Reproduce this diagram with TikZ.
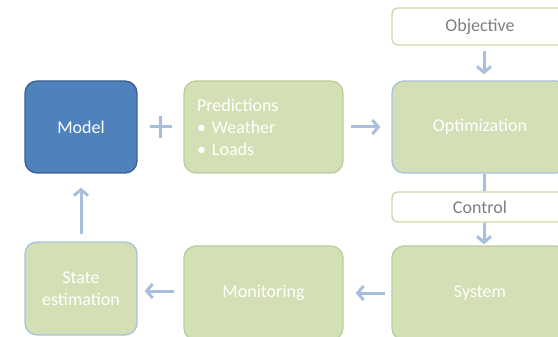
\documentclass[tikz,border=0pt]{standalone}
\usepackage{fontspec}
\setmainfont{Carlito}
\usetikzlibrary{arrows.meta,calc}
\definecolor{modelfill}{HTML}{4F81BD}
\definecolor{modeledge}{HTML}{3B6190}
\definecolor{leaf}{HTML}{D3E0B5}
\definecolor{leafedge}{HTML}{BCCC9C}
\definecolor{skyedge}{HTML}{A9C1DE}
\definecolor{tagedge}{HTML}{CBDAA6}
\definecolor{flow}{HTML}{A7BFDD}
\definecolor{tagtext}{HTML}{7F7F7F}
\tikzset{
  box/.style={rectangle, rounded corners=12pt, line width=1.3pt, fill=leaf,
    draw=leafedge, text=white, font=\fontsize{18}{22}\selectfont,
    inner sep=0pt, align=center},
  tag/.style={rectangle, rounded corners=6pt, line width=1.3pt, fill=white,
    draw=tagedge, text=tagtext, font=\fontsize{18}{22}\selectfont,
    inner sep=0pt, minimum width=176pt},
  arr/.style={draw=flow, line width=3pt,
    -{Straight Barb[length=6pt,width=14pt]}},
  link/.style={draw=flow, line width=3pt}
}
\begin{document}
\begin{tikzpicture}[x=1pt,y=1pt]
\useasboundingbox (0,0) rectangle (558,-337);
\clip (0,0) rectangle (558,-337);
% upper row
\node[box, fill=modelfill, draw=modeledge, minimum width=112pt, minimum height=92pt]
  (model) at (81,-127) {Model};
\node[box, minimum width=159pt, minimum height=92pt, text width=133pt, align=left]
  (pred) at (263.5,-127) {Predictions\\\textbullet\ Weather\\\textbullet\ Loads};
\node[box, draw=skyedge, minimum width=176pt, minimum height=92pt]
  (opt) at (480,-127) {Optimization};
\node[tag, minimum height=37pt] (obj) at (480,-26.5) {Objective};
% middle tag
\node[tag, minimum height=30pt] (ctrl) at (480,-207) {Control};
% lower row
\node[box, minimum width=176pt, minimum height=94pt] (sys) at (480,-293) {System};
\node[box, minimum width=159pt, minimum height=94pt] (mon) at (263.5,-293) {Monitoring};
\node[box, draw=skyedge, minimum width=112pt, minimum height=93pt]
  (est) at (81,-288.5) {State\\estimation};
% plus sign between model and predictions
\coordinate (plus) at ($(model.east)!0.5!(pred.west)$);
\draw[link] ([xshift=-11pt]plus) -- ([xshift=11pt]plus);
\draw[link] ([yshift=-11pt]plus) -- ([yshift=11pt]plus);
% flow connectors
\draw[arr, shorten <=7pt, shorten >=11pt] (pred.east) -- (opt.west);
\draw[arr, shorten <=5pt, shorten >=6pt] ([xshift=4pt]obj.south) -- ([xshift=4pt]opt.north);
\draw[link] ([xshift=4pt]opt.south) -- ([xshift=4pt]ctrl.north);
\draw[arr, shorten >=1pt] ([xshift=4pt]ctrl.south) -- ([xshift=4pt]sys.north);
\draw[arr, shorten <=6pt, shorten >=12pt] (sys.west) -- (mon.east);
\draw[arr, shorten <=9pt, shorten >=7pt] ([yshift=2pt]mon.west) -- ([yshift=2pt]mon.west -| est.east);
\draw[arr, shorten <=7pt, shorten >=14pt] (est.north) -- (model.south);
\end{tikzpicture}
\end{document}
